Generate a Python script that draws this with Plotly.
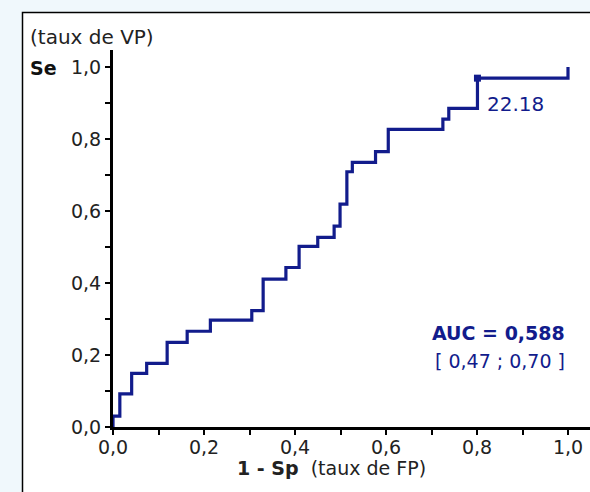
import plotly.graph_objects as go

# ROC step curve (1 - Sp, Se)
fpr = [0.0, 0.0, 0.015, 0.041, 0.074, 0.119, 0.163, 0.214, 0.305, 0.330, 0.380,
       0.409, 0.450, 0.486, 0.499, 0.514, 0.526, 0.577, 0.605, 0.725, 0.738,
       0.801, 1.0]
tpr = [0.0, 0.03, 0.092, 0.149, 0.177, 0.235, 0.266, 0.297, 0.323, 0.411, 0.443,
       0.502, 0.527, 0.558, 0.619, 0.709, 0.735, 0.765, 0.827, 0.855, 0.885,
       0.969, 1.0]

cut_x = [0.801]
cut_y = [0.969]
cut_label = "22.18"

auc_text = "AUC = 0,588"
ci_text = "[ 0,47 ; 0,70 ]"

tick_vals = [0.0, 0.2, 0.4, 0.6, 0.8, 1.0]
tick_text = ["0,0", "0,2", "0,4", "0,6", "0,8", "1,0"]

NAVY = "#121c8c"
FONT = "DejaVu Sans"
PAGE_BG = "#f0f8fc"

W, H = 590, 492
ML, MR, MT, MB = 113, 0, 50, 65
PW = W - ML - MR
PH = H - MT - MB


def px(xp):
    return (xp - ML) / PW


def py(yp):
    return (H - MB - yp) / PH


fig = go.Figure()
fig.add_trace(go.Scatter(
    x=fpr, y=tpr, mode="lines", line=dict(color=NAVY, width=3.2, shape="hv"),
    hoverinfo="skip", showlegend=False))
fig.add_trace(go.Scatter(
    x=cut_x, y=cut_y, mode="markers",
    marker=dict(symbol="square", size=7, color=NAVY), cliponaxis=False,
    hoverinfo="skip", showlegend=False))

axis_common = dict(
    showgrid=False, zeroline=False, showline=True, linecolor="black", linewidth=3,
    ticks="outside", ticklen=5, tickwidth=2, tickcolor="black",
    tickvals=tick_vals, ticktext=tick_text,
    tickfont=dict(family=FONT, size=19, color="#222"),
    minor=dict(dtick=0.1, ticks="outside", ticklen=5, tickwidth=2, tickcolor="black"),
    layer="below traces", fixedrange=True,
)

fig.update_layout(
    width=W, height=H,
    margin=dict(l=ML, r=MR, t=MT, b=MB, pad=0),
    paper_bgcolor=PAGE_BG, plot_bgcolor="white",
    xaxis=dict(range=[0, PW / 455], ticklabelstandoff=-4, **axis_common),
    yaxis=dict(range=[0, PH / 360], **axis_common),
    shapes=[dict(type="rect", xref="paper", yref="paper",
                 x0=px(22.5), x1=px(620), y0=py(520), y1=py(12.5),
                 fillcolor="white", line=dict(color="black", width=1.5),
                 layer="below")],
    annotations=[
        dict(text="(taux de VP)", xref="paper", yref="paper", x=px(28), y=py(37),
             xanchor="left", yanchor="middle", showarrow=False,
             font=dict(family=FONT, size=20, color="#222")),
        dict(text="<b>Se</b>", xref="paper", yref="paper", x=px(28), y=py(68),
             xanchor="left", yanchor="middle", showarrow=False,
             font=dict(family=FONT, size=19, color="#111")),
        dict(text="<b>1 - Sp</b>  (taux de FP)", xref="paper", yref="paper",
             x=px(331), y=py(468), xanchor="center", yanchor="middle", showarrow=False,
             font=dict(family=FONT, size=19, color="#222")),
        dict(text=cut_label, x=0.818, y=0.897, xanchor="left", yanchor="middle",
             showarrow=False, font=dict(family=FONT, size=20, color=NAVY)),
        dict(text="<b>" + auc_text + "</b>", x=0.998, y=0.261, xanchor="right",
             yanchor="middle", showarrow=False, font=dict(family=FONT, size=19, color=NAVY)),
        dict(text=ci_text, x=0.998, y=0.183, xanchor="right", yanchor="middle",
             showarrow=False, font=dict(family=FONT, size=19, color=NAVY)),
    ],
)

fig.write_html(
    "out.html",
    config={"displayModeBar": False, "staticPlot": True},
    post_script=(
        "document.body.style.margin='0';"
        "document.body.style.overflow='hidden';"
        "document.body.style.background='" + PAGE_BG + "';"
    ),
)
